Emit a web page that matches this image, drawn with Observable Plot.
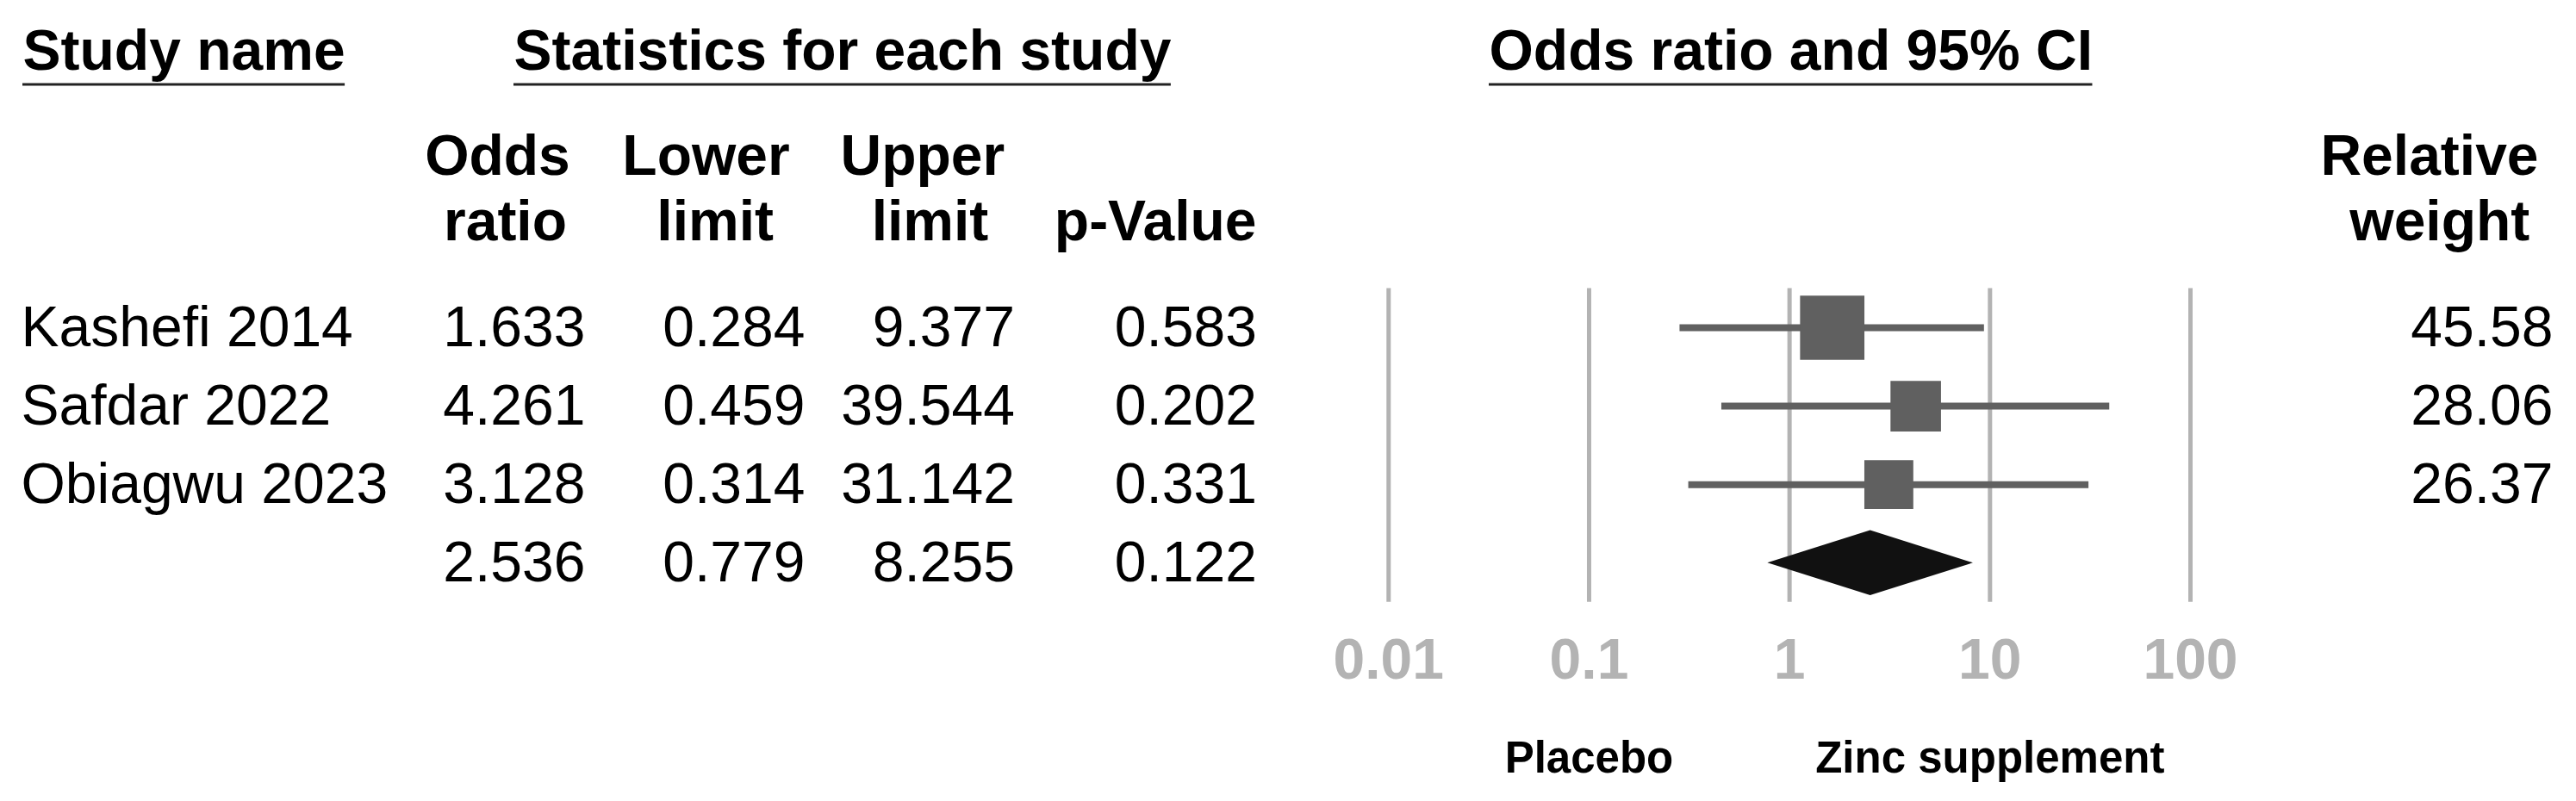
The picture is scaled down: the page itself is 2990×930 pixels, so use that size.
<!DOCTYPE html>
<html>
<head>
<meta charset="utf-8">
<script src="https://cdn.jsdelivr.net/npm/d3@7"></script>
<script src="https://cdn.jsdelivr.net/npm/@observablehq/plot@0.6"></script>
<style>
  html, body { margin: 0; padding: 0; background: #ffffff; }
  #chart svg { display: block; }
</style>
</head>
<body>
<div id="chart"></div>
<script>
// ---------------- data ----------------
const studies      = ["Kashefi 2014", "Safdar 2022", "Obiagwu 2023"];
const oddsRatio    = [1.633, 4.261, 3.128];
const lowerLimit   = [0.284, 0.459, 0.314];
const upperLimit   = [9.377, 39.544, 31.142];
const pValue       = [0.583, 0.202, 0.331];
const relWeight    = [45.58, 28.06, 26.37];
const summaryStats = [2.536, 0.779, 8.255, 0.122]; // odds ratio, lower, upper, p
const tickValues   = [0.01, 0.1, 1, 10, 100];
const tickLabels   = ["0.01", "0.1", "1", "10", "100"];
const sectionTitles = ["Study name", "Statistics for each study", "Odds ratio and 95% CI"];
const headLine1    = ["Odds", "Lower", "Upper", "", "Relative"];
const headLine2    = ["ratio", "limit", "limit", "p-Value", "weight"];
const sideLabels   = ["Placebo", "Zinc supplement"];
const sideLabelAt  = [0.1, 10];

// ---------------- layout / style ----------------
const FONT = "'Liberation Sans', Arial, Helvetica, sans-serif";
const FS = 66;
const W = 2990, H = 930;
const titleX = [26, 596, 1728];
const titleCenterY = 59.4, underlineY = 98;
const head1Y = 181.2, head2Y = 257.2;
const head1X = [577, 819, 1070.4, 0, 2819.5];
const head2X = [586, 829.7, 1079, 1340.7, 2831.3];
const colRight = [679, 934, 1177.5, 1458.5];
const weightRight = 2963;
const nameX = 24;
const gridColor = "#b3b3b3", boxColor = "#606060";

const f3 = d3.format(".3f"), f2 = d3.format(".2f");

const table = studies.map((s, i) => ({
  i, name: s, or: oddsRatio[i], lo: lowerLimit[i], hi: upperLimit[i], p: pValue[i], w: relWeight[i]
}));
const nS = studies.length;
const summary = {i: nS, name: "", or: summaryStats[0], lo: summaryStats[1], hi: summaryStats[2], p: summaryStats[3]};
const allRows = [...table, summary];
const fields = ["or", "lo", "hi", "p"];

// diamond for pooled estimate (half-height in row units)
const dh = 0.414;
const diamond = [
  {x: summary.lo, y1: nS, y2: nS},
  {x: summary.or, y1: nS - dh, y2: nS + dh},
  {x: summary.hi, y1: nS, y2: nS}
];

// underline decoration for the section titles
function underlines() {
  const ctx = document.createElement("canvas").getContext("2d");
  ctx.font = `bold ${FS}px ${FONT}`;
  const g = d3.create("svg:g");
  sectionTitles.forEach((t, k) => {
    const w = ctx.measureText(t).width;
    g.append("rect")
      .attr("x", titleX[k]).attr("y", underlineY - 1.5)
      .attr("width", w).attr("height", 3)
      .attr("fill", "#222");
  });
  return g.node();
}

const marks = [];

// grid lines
marks.push(Plot.ruleX(tickValues, {x: d => d, y1: -0.5, y2: nS + 0.5, stroke: gridColor, strokeWidth: 5}));

// x axis labels
marks.push(Plot.axisX(tickValues, {
  anchor: "bottom", tickSize: 0, tickPadding: 42,
  tickFormat: d => tickLabels[tickValues.indexOf(d)],
  fontSize: FS, fontWeight: "bold", color: gridColor, label: null
}));

// confidence intervals & weighted boxes
marks.push(Plot.ruleY(table, {y: "i", x1: "lo", x2: "hi", stroke: boxColor, strokeWidth: 8}));
marks.push(Plot.dot(table, {x: "or", y: "i", r: "w", symbol: "square", fill: boxColor}));
marks.push(Plot.areaY(diamond, {x: "x", y1: "y1", y2: "y2", fill: "#111111"}));

// section titles
sectionTitles.forEach((t, k) => {
  marks.push(Plot.text([t], {text: d => d, frameAnchor: "top-left", lineAnchor: "middle",
    dx: titleX[k], dy: titleCenterY,
    textAnchor: "start", fontSize: FS, fontWeight: "bold", fill: "#000"}));
});
marks.push(underlines);

// column headers
headLine1.forEach((t, k) => {
  if (t) marks.push(Plot.text([t], {text: d => d, frameAnchor: "top-left", lineAnchor: "middle",
    dx: head1X[k], dy: head1Y,
    textAnchor: "middle", fontSize: FS, fontWeight: "bold", fill: "#000"}));
});
headLine2.forEach((t, k) => {
  marks.push(Plot.text([t], {text: d => d, frameAnchor: "top-left", lineAnchor: "middle",
    dx: head2X[k], dy: head2Y,
    textAnchor: "middle", fontSize: FS, fontWeight: "bold", fill: "#000"}));
});

// study names
marks.push(Plot.text(table, {y: "i", text: "name", frameAnchor: "left", lineAnchor: "middle", dx: nameX,
  textAnchor: "start", fontSize: FS, fill: "#000"}));

// statistics columns
fields.forEach((f, k) => {
  marks.push(Plot.text(allRows, {y: "i", text: d => f3(d[f]), frameAnchor: "left", lineAnchor: "middle",
    dx: colRight[k], textAnchor: "end", fontSize: FS, fill: "#000"}));
});

// relative weights
marks.push(Plot.text(table, {y: "i", text: d => f2(d.w), frameAnchor: "left", lineAnchor: "middle",
  dx: weightRight, textAnchor: "end", fontSize: FS, fill: "#000"}));

// favours labels
marks.push(Plot.text(sideLabels, {x: (d, i) => sideLabelAt[i], text: d => d, frameAnchor: "top",
  lineAnchor: "middle", dy: 880.4,
  textAnchor: "middle", fontSize: 51, fontWeight: "bold", fill: "#000"}));

const chart = Plot.plot({
  width: W, height: H,
  marginTop: 0, marginLeft: 0, marginRight: 0, marginBottom: H - 699,
  style: {fontFamily: FONT, background: "#ffffff", color: "#000"},
  x: {type: "log", domain: [0.01, 100], range: [1611.3, 2542]},
  y: {type: "linear", domain: [0, nS], range: [380, 653.3], axis: null},
  r: {type: "sqrt", domain: [0, d3.max(relWeight)], range: [0, 74.7 / Math.sqrt(Math.PI)]},
  marks
});
document.getElementById("chart").appendChild(chart);
</script>
</body>
</html>
